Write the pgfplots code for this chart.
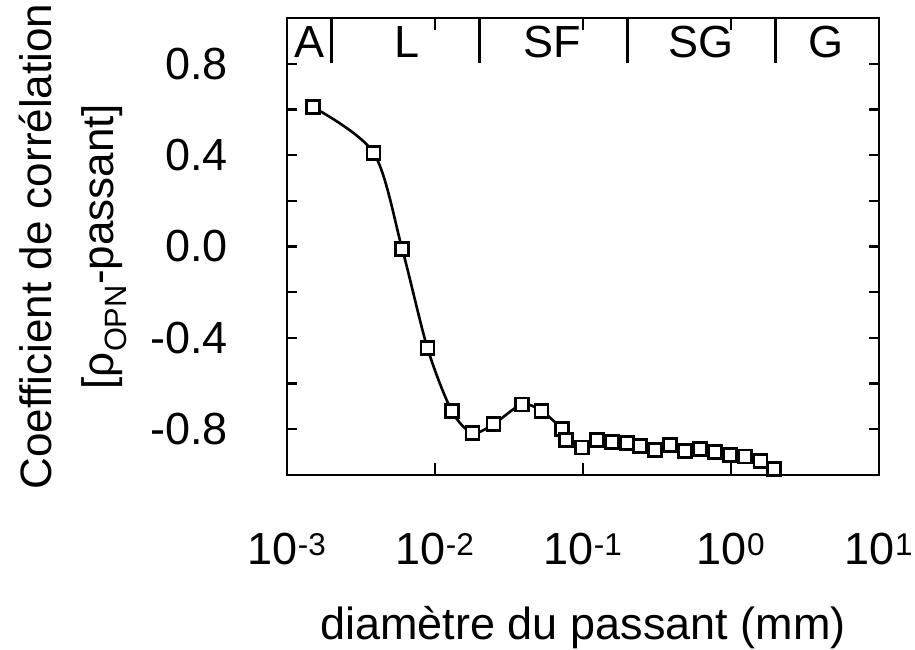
\documentclass[border=0pt]{standalone}
\usepackage{fontspec}
\setmainfont{Liberation Sans}
\usepackage{pgfplots}
\pgfplotsset{compat=1.18}
\begin{document}
\begin{tikzpicture}
\begin{axis}[
  scale only axis,
  width=592pt, height=457pt,
  xmode=log, xmin=1e-3, xmax=10, ymin=-1, ymax=1,
  axis line style={line width=2.7pt},
  tick style={line width=2.3pt, black},
  tick align=inside,
  major tick length=12pt,
  minor tick length=6pt,
  ytick={-0.8,-0.6,-0.4,-0.2,0,0.2,0.4,0.6,0.8},
  yticklabels={-0.8,,-0.4,,0.0,,0.4,,0.8},
  ytick style={/pgfplots/major tick length=10pt},
  xtick={1e-3,1e-2,1e-1,1,10},
  xticklabels={10\textsuperscript{-3},10\textsuperscript{-2},10\textsuperscript{-1},10\textsuperscript{0},10\textsuperscript{1}},
  log basis x=10,
  tick label style={font=\fontsize{45}{52}\selectfont},
  xticklabel style={anchor=north, inner sep=0pt, yshift=-58pt},
  yticklabel style={anchor=east, inner sep=0pt, xshift=-59pt},
  xlabel={diamètre du passant (mm)},
  xlabel style={at={(axis description cs:0.5,0)}, anchor=north, inner sep=0pt, yshift=-131pt, font=\fontsize{45}{52}\selectfont},
  ylabel={Coefficient de corrélation\\{[}ρ\textsubscript{OPN}-passant{]}},
  ylabel style={at={(axis description cs:-0.27,0.5)}, anchor=south, inner sep=0pt, align=center, font=\fontsize{44}{62}\selectfont},
  clip=false,
]
\addplot[black, line width=2.6pt, smooth, tension=0.5,
  mark=square*, mark size=6.5pt, mark options={fill=white, line width=2.7pt, solid}]
  table {
x y
0.00150 0.61
0.00385 0.41
0.00600 -0.01
0.00890 -0.445
0.0130 -0.72
0.0179 -0.815
0.0248 -0.778
0.0386 -0.691
0.0525 -0.72
0.0723 -0.80
0.0767 -0.846
0.098 -0.88
0.124 -0.846
0.157 -0.855
0.198 -0.861
0.244 -0.872
0.308 -0.89
0.388 -0.87
0.491 -0.894
0.620 -0.887
0.782 -0.899
0.989 -0.913
1.24 -0.919
1.58 -0.938
1.96 -0.975
};
\addplot[black, line width=2.5pt, forget plot] coordinates {(0.002,1) (0.002,0.805)};
\addplot[black, line width=2.5pt, forget plot] coordinates {(0.02,1) (0.02,0.805)};
\addplot[black, line width=2.5pt, forget plot] coordinates {(0.2,1) (0.2,0.805)};
\addplot[black, line width=2.5pt, forget plot] coordinates {(2,1) (2,0.805)};
\node[font=\fontsize{45}{52}\selectfont] at (axis cs:0.00142,0.894) {A};
\node[font=\fontsize{45}{52}\selectfont] at (axis cs:0.00643,0.894) {L};
\node[font=\fontsize{45}{52}\selectfont] at (axis cs:0.0624,0.894) {SF};
\node[font=\fontsize{45}{52}\selectfont] at (axis cs:0.624,0.894) {SG};
\node[font=\fontsize{45}{52}\selectfont] at (axis cs:4.37,0.894) {G};
\end{axis}
\path (current axis.south west) ++(-287pt,-174pt) rectangle ++(915pt,649pt);
\end{tikzpicture}
\end{document}
